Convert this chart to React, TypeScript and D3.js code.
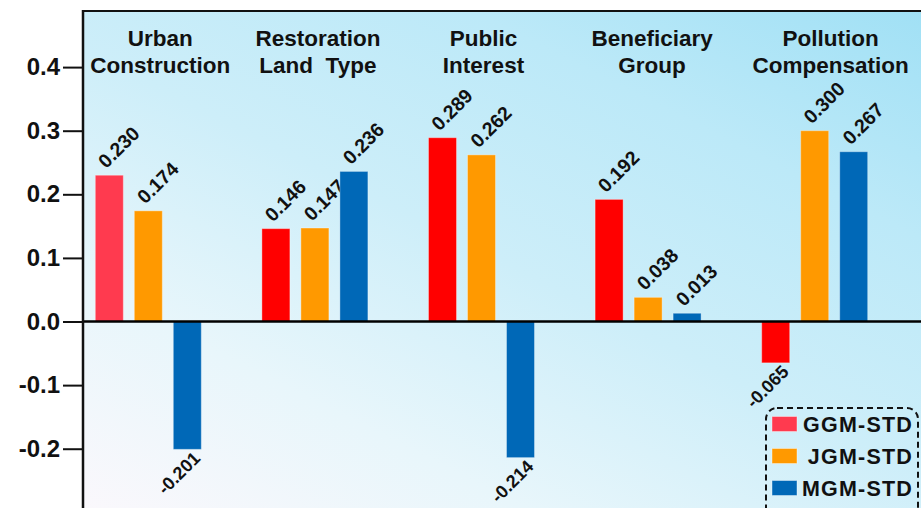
import { useEffect, useRef } from 'react'
import * as d3 from 'd3'

const categories = ['Urban Construction', 'Restoration Land Type', 'Public Interest', 'Beneficiary Group', 'Pollution Compensation']
const categoryLines = [['Urban', 'Construction'], ['Restoration', 'Land  Type'], ['Public', 'Interest'], ['Beneficiary', 'Group'], ['Pollution', 'Compensation']]
const seriesNames = ['GGM-STD', 'JGM-STD', 'MGM-STD']
const ggmValues = [0.230, 0.146, 0.289, 0.192, -0.065]
const jgmValues = [0.174, 0.147, 0.262, 0.038, 0.300]
const mgmValues = [-0.201, 0.236, -0.214, 0.013, 0.267]
const yTicks = [-0.2, -0.1, 0.0, 0.1, 0.2, 0.3, 0.4]

const W = 921
const H = 508
const FONT = '"Liberation Sans", Arial, Helvetica, sans-serif'
const seriesColors = ['#ff0000', '#ff9900', '#0068b7']
const ggmAccent = '#ff3a4f'
// small nudges so the two-line headers sit like in the original
const labelNudge = [12, 3, 2, 4, 16]

export default function App() {
  const svgRef = useRef<SVGSVGElement>(null)

  useEffect(() => {
    if (!svgRef.current) return
    const svg = d3.select(svgRef.current)
    svg.selectAll('*').remove()

    const left = 83
    const top = 11

    const y = d3.scaleLinear().domain([-0.2932, 0.4882]).range([H, top])
    const x0 = d3.scaleBand<string>().domain(categories).range([65, 898]).padding(0)
    const x1 = d3.scaleBand<string>().domain(seriesNames).range([-53, 53]).paddingInner(11 / 39)

    const values = [ggmValues, jgmValues, mgmValues]

    // background gradient
    const defs = svg.append('defs')
    const grad = defs.append('linearGradient')
      .attr('id', 'bg')
      .attr('gradientUnits', 'userSpaceOnUse')
      .attr('x1', 311).attr('y1', 634)
      .attr('x2', 689).attr('y2', -114)
    const stops: [number, string][] = [[0, '#fbf8fc'], [0.25, '#e8f6fb'], [0.5, '#cdeef9'], [0.75, '#bce9f8'], [1, '#a0e0f5']]
    stops.forEach(([o, c]) => grad.append('stop').attr('offset', o).attr('stop-color', c))

    svg.append('rect').attr('width', W).attr('height', H).attr('fill', '#ffffff')
    svg.append('rect')
      .attr('x', left).attr('y', top)
      .attr('width', W - left).attr('height', H - top)
      .attr('fill', 'url(#bg)')

    // header labels
    categories.forEach((c, i) => {
      const cx = x0(c)! + x0.bandwidth() / 2 + labelNudge[i]
      const t = svg.append('text')
        .attr('text-anchor', 'middle')
        .attr('font-family', FONT)
        .attr('font-weight', 'bold')
        .attr('font-size', 22.5)
        .attr('fill', '#111')
        .attr('xml:space', 'preserve')
      categoryLines[i].forEach((line, j) => {
        t.append('tspan').attr('x', cx).attr('y', 46 + j * 27).text(line)
      })
    })

    // bars
    const y0 = y(0)
    categories.forEach((c, i) => {
      const gx = x0(c)! + x0.bandwidth() / 2
      seriesNames.forEach((s, k) => {
        const v = values[k][i]
        const bx = gx + x1(s)!
        const bw = x1.bandwidth()
        const color = k === 0 && i === 0 ? ggmAccent : seriesColors[k]
        svg.append('rect')
          .attr('x', bx)
          .attr('y', v >= 0 ? y(v) : y0)
          .attr('width', bw)
          .attr('height', Math.abs(y(v) - y0))
          .attr('fill', color)
          .attr('stroke', 'rgba(255,255,255,0.35)')
          .attr('stroke-width', 1)

        const cx = bx + bw / 2
        const label = svg.append('text')
          .attr('font-family', FONT)
          .attr('font-weight', 'bold')
          .attr('font-size', v >= 0 ? 19.5 : 18)
          .attr('fill', '#111')
          .text(v.toFixed(3))
        if (v >= 0) {
          const px = cx - 3
          const py = y(v) - 6
          label.attr('text-anchor', 'start')
            .attr('transform', `translate(${px},${py}) rotate(-45)`)
        } else {
          const px = cx + 5
          const py = y(v) + 1
          label.attr('text-anchor', 'end')
            .attr('dominant-baseline', 'hanging')
            .attr('transform', `translate(${px},${py}) rotate(-45)`)
        }
      })
    })

    // zero line
    svg.append('line')
      .attr('x1', left).attr('x2', W)
      .attr('y1', y0).attr('y2', y0)
      .attr('stroke', '#000').attr('stroke-width', 2.5)

    // frame top + left axis
    svg.append('line')
      .attr('x1', left).attr('x2', W)
      .attr('y1', top).attr('y2', top)
      .attr('stroke', '#111').attr('stroke-width', 2)

    const axis = svg.append('g')
      .attr('transform', `translate(${left},0)`)
      .call(d3.axisLeft(y)
        .tickValues(yTicks)
        .tickSize(20)
        .tickPadding(3)
        .tickFormat((d: any) => (+d).toFixed(1)))
    axis.select('.domain').remove()
    axis.selectAll('.tick line').attr('stroke', '#111').attr('stroke-width', 2)
    axis.selectAll('.tick text')
      .attr('font-family', FONT)
      .attr('font-weight', 'bold')
      .attr('font-size', 24)
      .attr('fill', '#111')
    svg.append('line')
      .attr('x1', left).attr('x2', left)
      .attr('y1', top - 1).attr('y2', H)
      .attr('stroke', '#111').attr('stroke-width', 2.5)

    // legend
    const lg = svg.append('g')
    lg.append('rect')
      .attr('x', 766).attr('y', 408)
      .attr('width', 152).attr('height', 112)
      .attr('rx', 11)
      .attr('fill', 'none')
      .attr('stroke', '#111')
      .attr('stroke-width', 2)
      .attr('stroke-dasharray', '6 4')
    seriesNames.forEach((s, k) => {
      const cy = 424 + k * 32
      lg.append('rect')
        .attr('x', 772).attr('y', cy - 7.5)
        .attr('width', 25).attr('height', 15)
        .attr('fill', k === 0 ? ggmAccent : seriesColors[k])
        .attr('stroke', 'rgba(255,255,255,0.4)')
      lg.append('text')
        .attr('x', 913).attr('y', cy + 8)
        .attr('text-anchor', 'end')
        .attr('font-family', FONT)
        .attr('font-weight', 'bold')
        .attr('font-size', 21.5)
        .attr('letter-spacing', 1.2)
        .attr('fill', '#111')
        .text(s)
    })
  }, [])

  return (
    <div style={{ position: 'fixed', left: 0, top: 0, width: W, height: H, overflow: 'hidden' }}>
      <svg ref={svgRef} width={W} height={H} style={{ display: 'block' }} />
    </div>
  )
}
